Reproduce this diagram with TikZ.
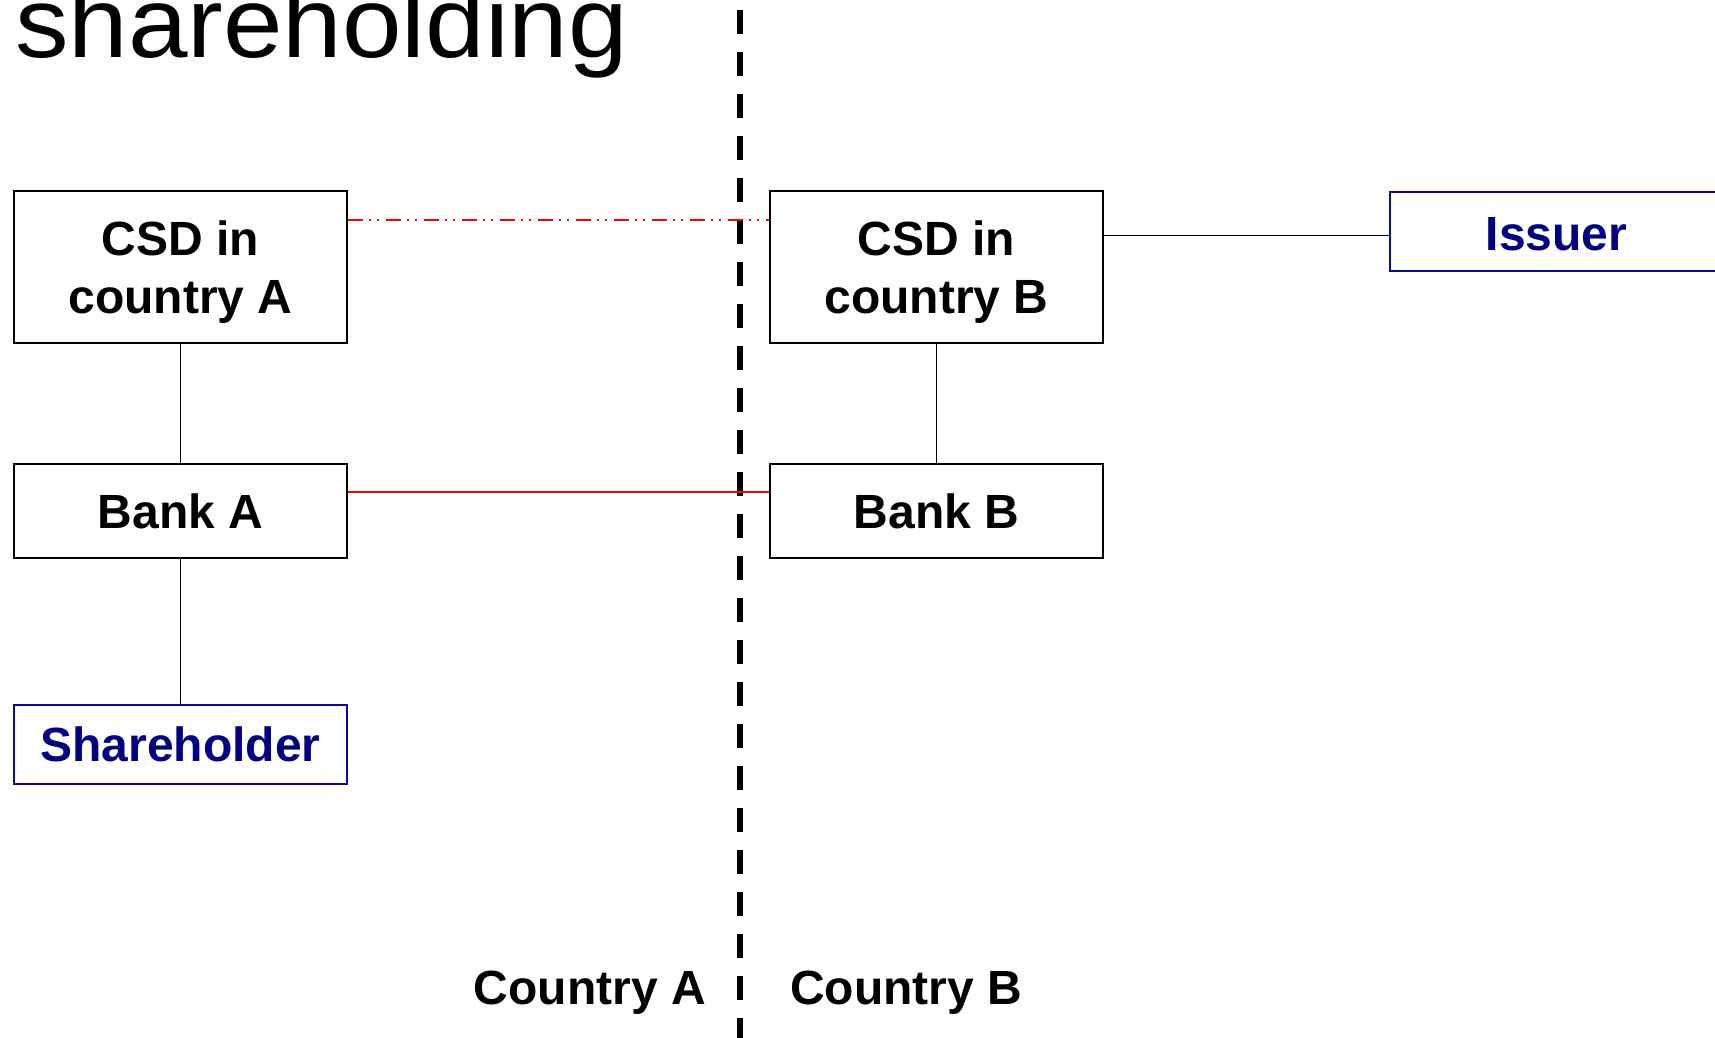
\documentclass[tikz,border=0pt]{standalone}
\usepackage{fontspec}
\setmainfont{Liberation Sans}
\definecolor{navytext}{RGB}{0,0,128}
\definecolor{navyline}{RGB}{10,10,150}
\definecolor{redline}{RGB}{255,0,0}
\begin{document}
\begin{tikzpicture}[x=1pt,y=-1pt,
  boxfont/.style={font=\fontsize{48}{58}\selectfont\bfseries},
  blackbox/.style={draw=black,line width=2pt,minimum width=333pt,inner sep=0pt,
    align=center,boxfont,text=black},
  bluebox/.style={draw=navyline,line width=2pt,minimum width=333pt,inner sep=0pt,
    align=center,boxfont,text=navytext},
  link/.style={draw=black,line width=1.5pt},
  redsolid/.style={draw=redline,line width=2pt},
  reddashdot/.style={draw=redline,line width=2pt,
    dash pattern=on 15pt off 6pt on 2pt off 6pt on 2pt off 7pt},
  divider/.style={draw=black,line width=6pt,dash pattern=on 24pt off 18pt},
  countrylabel/.style={boxfont,inner sep=0pt}
]
\useasboundingbox (0,0) rectangle (1715,1037);
\clip (0,0) rectangle (1715,1037);
\fill[white] (0,0) rectangle (1715,1037);

% title (top cut off, as in the reference)
\node[anchor=base west,inner sep=0pt,font=\fontsize{100}{110}\selectfont] (title)
  at (15,57) {\scalebox{1.07}[1]{shareholding}};

% boxes
\node[blackbox,minimum height=152pt] (csdA) at (180.5,267) {\rule{0pt}{44pt}CSD in\\country A};
\node[blackbox,minimum height=152pt] (csdB) at (936.5,267) {\rule{0pt}{44pt}CSD in\\country B};
\node[blackbox,minimum height=94pt] (bankA) at (180.5,511) {Bank A};
\node[blackbox,minimum height=94pt] (bankB) at (936.5,511) {Bank B};
\node[bluebox,minimum height=79pt] (share) at (180.5,744.5) {Shareholder};
\node[bluebox,minimum height=79pt] (issuer) at (1556.5,231) {\rule{0pt}{40pt}Issuer};

% divider
\coordinate (divtop) at (740,-32);
\coordinate (divbot) at (740,1045);
\draw[divider] (divtop) -- (divbot);

% connectors
\draw[link] ([yshift=-4.5pt]issuer.west -| csdB.east) -- ([yshift=-4.5pt]issuer.west);
\draw[link] (csdA.south) -- (bankA.north);
\draw[link] (bankA.south) -- (share.north);
\draw[link] (csdB.south) -- (bankB.north);
\draw[reddashdot] ([yshift=-30pt]csdA.north east) -- ([yshift=-30pt]csdB.north west);
\draw[redsolid] ([yshift=-29pt]bankA.north east) -- ([yshift=-29pt]bankB.north west);

% country labels
\node[countrylabel,anchor=base east] (ctyA) at (706,1004) {Country A};
\node[countrylabel,anchor=base west] (ctyB) at (790,1004) {Country B};
\end{tikzpicture}
\end{document}
